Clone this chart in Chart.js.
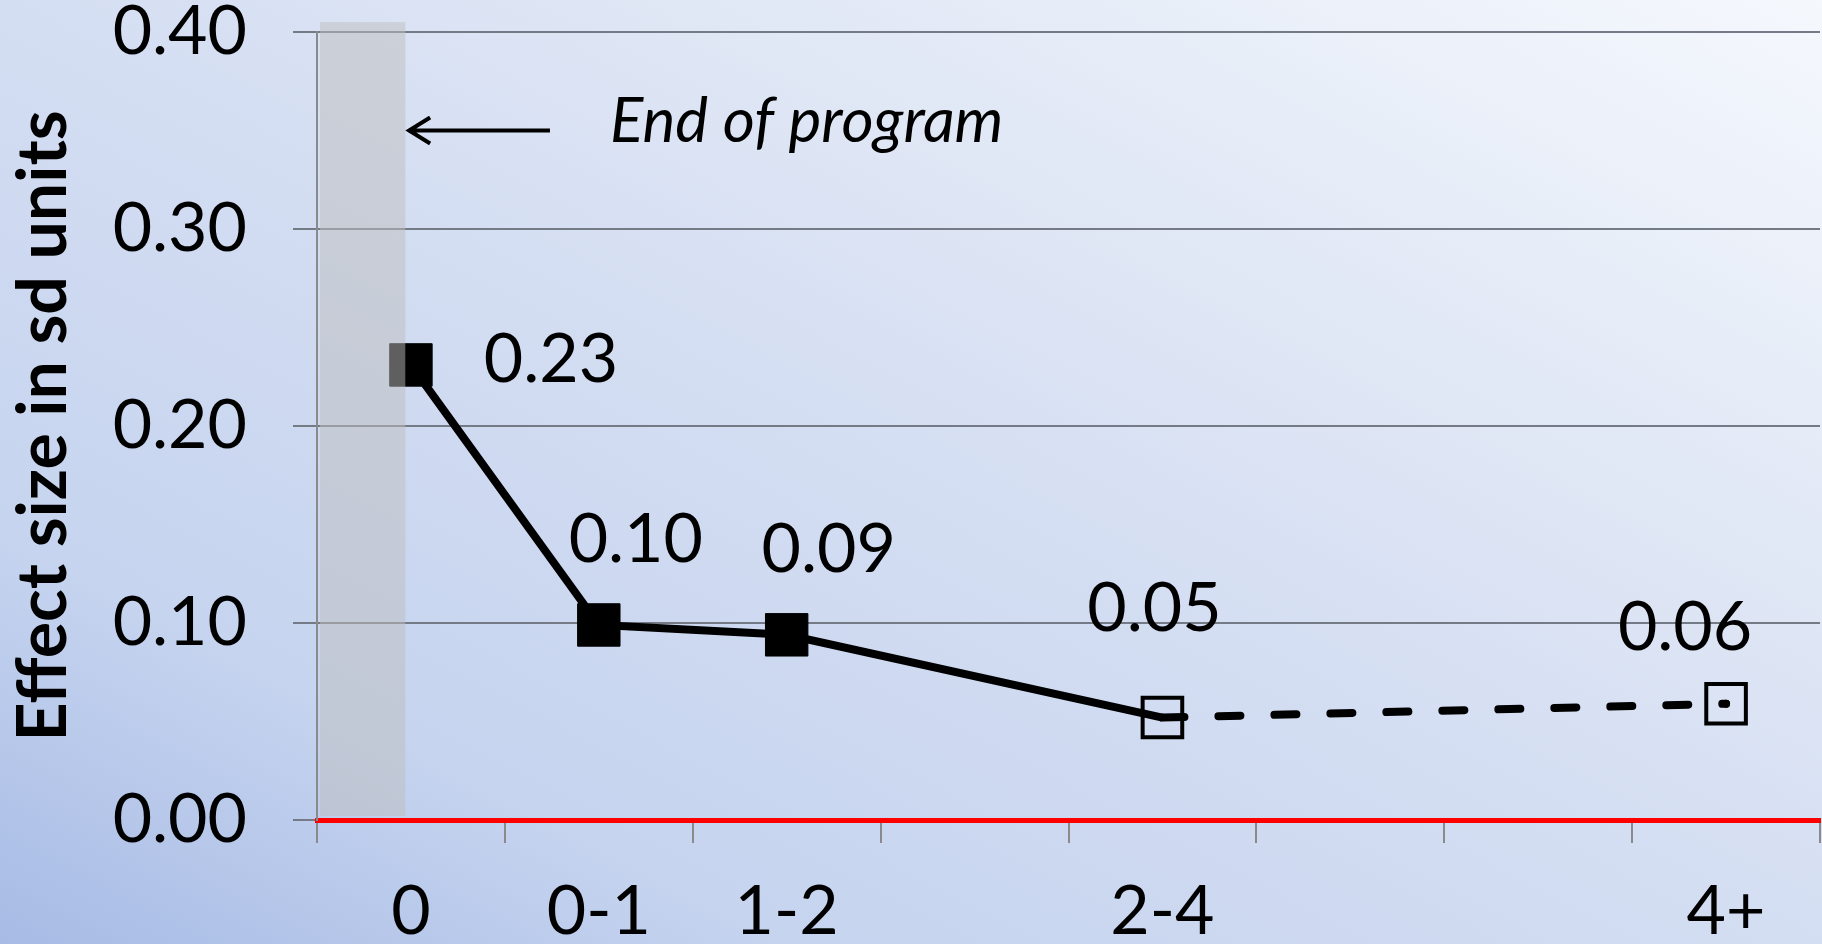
<!DOCTYPE html>
<html lang="en">
<head>
  <meta charset="utf-8">
  <title>Effect size in sd units</title>
  <style>
    html, body { margin: 0; padding: 0; }
    body {
      width: 1822px; height: 944px; overflow: hidden;
      background: linear-gradient(to top right, #a7bbe5 0%, #c6d4ef 22%, #d3ddf2 48%, #e2e9f6 72%, #f5f8fd 100%);
    }
    #wrap { position: relative; width: 1822px; height: 944px; }
  </style>
</head>
<body>
  <div id="wrap"><canvas id="chart"></canvas></div>

  <script src="https://cdn.jsdelivr.net/npm/chart.js"></script>
  <script>
    // years after the end of the program
    const labels = ['0', '0-1', '1-2', '', '2-4', '', '', '4+'];
    const measured = [0.231, 0.099, 0.094, null, 0.052, null, null, null];
    const projected = [null, null, null, null, 0.052, null, null, 0.059];
    const yTicks = [0, 0.1, 0.2, 0.3, 0.4];

    const font = 'Lato';
    // label offsets from their point (dx, dy) - purely cosmetic
    const labelOffsets = [[140, -5], [37, -85], [42, -85], [-8, -108], [-41, -76]];

    const overlay = {
      id: 'overlay',
      afterDatasetsDraw(c) {
        const { ctx, chartArea, scales: { x, y } } = c;
        ctx.save();
        // shaded "program" band
        const bx0 = chartArea.left + 3;
        const bx1 = x.getPixelForValue(-0.03);
        const by0 = y.getPixelForValue(0.405);
        const by1 = y.getPixelForValue(0) - 4;
        ctx.fillStyle = 'rgba(190,190,190,0.5)';
        ctx.fillRect(bx0, by0, bx1 - bx0, by1 - by0);

        // arrow
        const ay = y.getPixelForValue(0.35);
        const ax0 = x.getPixelForValue(0.74);
        const ax1 = x.getPixelForValue(-0.015);
        ctx.strokeStyle = '#000';
        ctx.lineWidth = 4;
        ctx.beginPath();
        ctx.moveTo(ax0, ay);
        ctx.lineTo(ax1, ay);
        ctx.moveTo(ax1 + 22, ay - 13);
        ctx.lineTo(ax1 + 1, ay);
        ctx.lineTo(ax1 + 22, ay + 13);
        ctx.stroke();

        ctx.fillStyle = '#000';
        ctx.font = 'italic 62px ' + font;
        ctx.textAlign = 'left';
        ctx.textBaseline = 'alphabetic';
        ctx.fillText('End of program', x.getPixelForValue(1.06), y.getPixelForValue(0.344));

        // value labels
        const pts = [];
        c.data.datasets.slice(0, 2).forEach((ds, di) => {
          const meta = c.getDatasetMeta(di);
          ds.data.forEach((v, i) => {
            if (v === null) return;
            if (di === 1 && measured[i] !== null) return;
            pts.push({ v, el: meta.data[i] });
          });
        });
        ctx.font = '68px ' + font;
        ctx.textAlign = 'center';
        ctx.textBaseline = 'middle';
        pts.forEach((p, k) => {
          const [dx, dy] = labelOffsets[k];
          ctx.fillText(p.v.toFixed(2), p.el.x + dx, p.el.y + dy);
        });
        ctx.restore();
      }
    };

    new Chart(document.getElementById('chart'), {
      type: 'line',
      data: {
        labels: labels,
        datasets: [{
          label: 'Measured',
          data: measured,
          spanGaps: true,
          borderColor: '#000',
          borderWidth: 8,
          pointStyle: 'rect',
          pointRadius: [30, 30, 30, 0, 0, 0, 0, 0],
          pointBackgroundColor: '#000',
          pointBorderColor: '#000',
          pointBorderWidth: 1,
          order: 2
        }, {
          label: 'Projected',
          data: projected,
          spanGaps: true,
          borderColor: '#000',
          borderWidth: 8,
          borderDash: [22, 34],
          borderCapStyle: 'round',
          pointStyle: 'rect',
          pointRadius: 28,
          pointBackgroundColor: 'rgba(0,0,0,0)',
          pointBorderColor: '#000',
          pointBorderWidth: 4,
          order: 1
        }, {
          label: 'dot',
          data: projected.map((v, i) => (i === labels.length - 1 ? v : null)),
          showLine: false,
          pointRadius: 4,
          pointBackgroundColor: '#000',
          pointBorderWidth: 0,
          order: 0
        }]
      },
      options: {
        responsive: true,
        maintainAspectRatio: false,
        animation: false,
        layout: { autoPadding: false, padding: { top: 32, right: 2, left: 0, bottom: 0 } },
        plugins: {
          legend: { display: false },
          tooltip: { enabled: false }
        },
        scales: {
          x: {
            z: 1,
            offset: true,
            grid: {
              offset: true,
              drawOnChartArea: false,
              drawTicks: true,
              tickLength: 23,
              color: '#8a8a8a',
              lineWidth: 2
            },
            border: { color: '#ff0000', width: 5 },
            ticks: {
              color: '#000',
              padding: 35,
              maxRotation: 0,
              autoSkip: false,
              font: { family: font, size: 68, lineHeight: 1 }
            },
            afterFit(s) { s.height = 124; s.paddingLeft = 0; s.paddingRight = 0; }
          },
          y: {
            min: 0,
            max: 0.4,
            afterBuildTicks(s) { s.ticks = yTicks.map(v => ({ value: v })); },
            grid: {
              color: '#747a86',
              lineWidth: 2,
              tickLength: 24,
              drawTicks: true
            },
            border: { color: '#8a8a8a', width: 2 },
            ticks: {
              color: '#000',
              padding: 46,
              callback: v => v.toFixed(2),
              font: { family: font, size: 68, lineHeight: 1 }
            },
            title: {
              display: true,
              text: 'Effect size in sd units',
              color: '#000',
              padding: { top: 3, bottom: 0 },
              font: { family: font, size: 68, weight: 'bold', lineHeight: 1.2 }
            },
            afterFit(s) { s.width = 317; s.paddingTop = 0; s.paddingBottom = 0; }
          }
        }
      },
      plugins: [overlay]
    });
  </script>
</body>
</html>
